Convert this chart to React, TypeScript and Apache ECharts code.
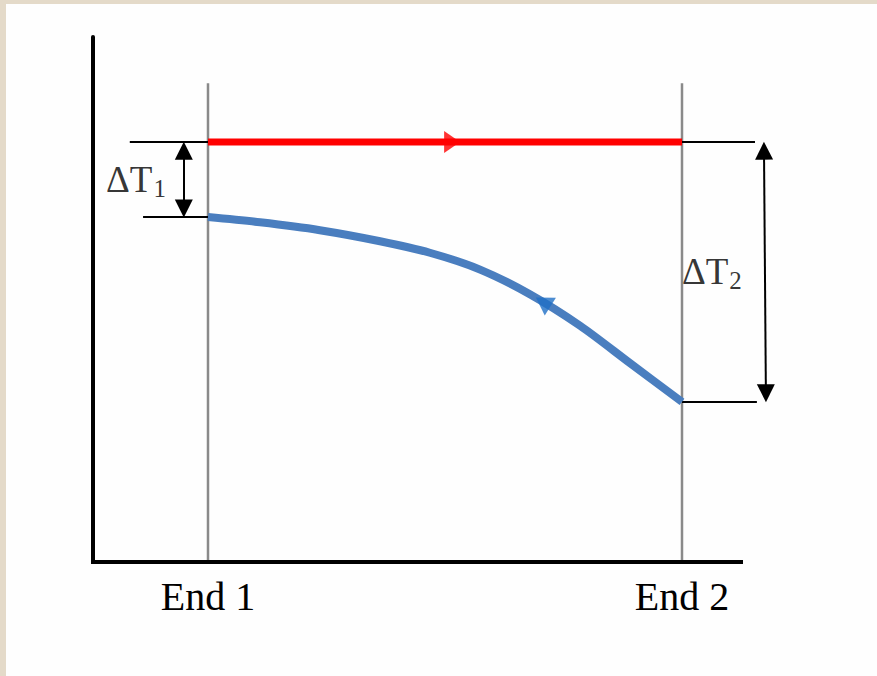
import React, { useEffect, useRef } from "react";
import * as echarts from "echarts";

// Ends of the exchanger (x in arbitrary length units) and their labels
const endLabels = ["End 1", "End 2"];
const endPositions = [0, 10];
const guideTop = 91.2;

// Axis extents
const xAxisStart = -2.49;
const xAxisEnd = 11.287;

// Hot stream (red) – constant temperature
const hotX = [0, 10];
const hotTemp = [80, 80];

// Cold stream (blue)
const coldX = [0, 1.1, 2.36, 3.63, 4.68, 5.74, 6.79, 7.85, 8.9, 10];
const coldTemp = [65.7, 64.7, 63.2, 61.1, 58.9, 55.7, 51.0, 45.0, 37.9, 30.5];

// Flow-direction arrows
const hotArrowX = 5.15;
const coldArrowX = 7.07;
const coldArrowTemp = 49.5;

// Reference (dimension) lines
const leftRefTopStart = -1.65;
const leftRefBottomStart = -1.37;
const rightRefTopEnd = 11.54;
const rightRefBottomEnd = 11.58;
const dT1X = -0.51;
const dT2XTop = 11.73;
const dT2XBottom = 11.77;
const deltaSubs = ["1", "2"];
const dT1LabelX = -1.52;
const dT2LabelX = 10.63;

const SERIF = "'Liberation Serif', 'Times New Roman', serif";

export default function App() {
  const ref = useRef<HTMLDivElement>(null);
  useEffect(() => {
    document.body.style.margin = "0";
    const chart = echarts.init(ref.current!, null, { renderer: "svg" });
    const hot0 = hotTemp[0];
    const coldStart = coldTemp[0];
    const coldEnd = coldTemp[coldTemp.length - 1];
    const inset = 1.65;
    const blackLine = (data: number[][], width = 2) => ({
      type: "line",
      data,
      symbol: "none",
      clip: false,
      silent: true,
      lineStyle: { color: "#000", width },
      z: 3,
    });
    const option: any = {
      animation: false,
      backgroundColor: "transparent",
      grid: { left: 93, top: 37, right: 102, bottom: 114 },
      xAxis: {
        type: "value",
        min: -2.426,
        max: 11.962,
        splitLine: { show: false },
        axisTick: { show: false },
        axisLine: { show: false },
        axisLabel: {
          show: true,
          customValues: endPositions,
          formatter: (v: number) => endLabels[endPositions.indexOf(v)] ?? "",
          fontFamily: SERIF,
          fontSize: 40,
          color: "#000",
          margin: 14,
        },
      },
      yAxis: {
        type: "value",
        min: 0,
        max: 100,
        splitLine: { show: false },
        axisTick: { show: false },
        axisLabel: { show: false },
        axisLine: { show: true, onZero: false, lineStyle: { color: "#000", width: 4 } },
      },
      series: [
        ...endPositions.map((x) => ({
          type: "line",
          data: [
            [x, 0],
            [x, guideTop],
          ],
          symbol: "none",
          clip: false,
          silent: true,
          lineStyle: { color: "#8a8a8a", width: 2.5 },
          z: 1,
        })),
        blackLine(
          [
            [xAxisStart, 0],
            [xAxisEnd, 0],
          ],
          4
        ),
        blackLine([
          [leftRefTopStart, hot0],
          [0, hot0],
        ]),
        blackLine([
          [leftRefBottomStart, coldStart],
          [0, coldStart],
        ]),
        blackLine([
          [10, hot0],
          [rightRefTopEnd, hot0],
        ]),
        blackLine([
          [10, coldEnd],
          [rightRefBottomEnd, coldEnd],
        ]),
        {
          type: "line",
          data: hotX.map((x, i) => [x, hotTemp[i]]),
          symbol: "none",
          clip: false,
          silent: true,
          lineStyle: { color: "#ff0000", width: 7 },
          z: 4,
          markLine: {
            silent: true,
            symbol: ["triangle", "triangle"],
            symbolSize: [18, 18],
            label: { show: false },
            lineStyle: { color: "#000", width: 2, type: "solid" },
            data: [
              [
                { coord: [dT1X, hot0 - inset] },
                { coord: [dT1X, coldStart + inset] },
              ],
              [
                { coord: [dT2XTop, hot0 - inset] },
                { coord: [dT2XBottom, coldEnd + inset] },
              ],
            ],
          },
        },
        {
          type: "line",
          data: coldX.map((x, i) => [x, coldTemp[i]]),
          symbol: "none",
          smooth: 0.3,
          clip: false,
          silent: true,
          lineStyle: { color: "#4a7ebf", width: 8, cap: "butt", join: "round" },
          z: 4,
        },
        {
          type: "scatter",
          data: [[hotArrowX, hot0]],
          symbol: "triangle",
          symbolSize: [22, 16],
          symbolRotate: -90,
          itemStyle: { color: "#ff0000" },
          clip: false,
          silent: true,
          z: 5,
        },
        {
          type: "scatter",
          data: [[coldArrowX, coldArrowTemp]],
          symbol: "triangle",
          symbolSize: [21, 17],
          symbolRotate: 58,
          itemStyle: { color: "#1f6fc6" },
          clip: false,
          silent: true,
          z: 5,
        },
        {
          type: "scatter",
          data: [
            [dT1LabelX, (hot0 + coldStart) / 2],
            [dT2LabelX, (hot0 + coldEnd) / 2],
          ],
          symbolSize: 1,
          itemStyle: { color: "transparent" },
          clip: false,
          silent: true,
          z: 6,
          label: {
            show: true,
            position: "inside",
            formatter: (p: any) => `{m|ΔT}{s|${deltaSubs[p.dataIndex]}}`,
            rich: {
              m: { fontFamily: SERIF, fontSize: 37, color: "#000", lineHeight: 42 },
              s: {
                fontFamily: SERIF,
                fontSize: 25,
                color: "#000",
                lineHeight: 42,
                verticalAlign: "bottom",
                padding: [0, 0, 0, 1],
              },
            },
          },
        },
      ],
    };
    chart.setOption(option);
    return () => chart.dispose();
  }, []);
  return (
    <div
      style={{
        position: "fixed",
        left: 0,
        top: 0,
        width: 877,
        height: 676,
        background: "#e4dac9",
      }}
    >
      <div
        style={{
          position: "absolute",
          left: 6,
          top: 4,
          width: 871,
          height: 672,
          background: "#fefefe",
        }}
      />
      <div ref={ref} style={{ position: "absolute", left: 0, top: 0, width: 877, height: 676 }} />
    </div>
  );
}
